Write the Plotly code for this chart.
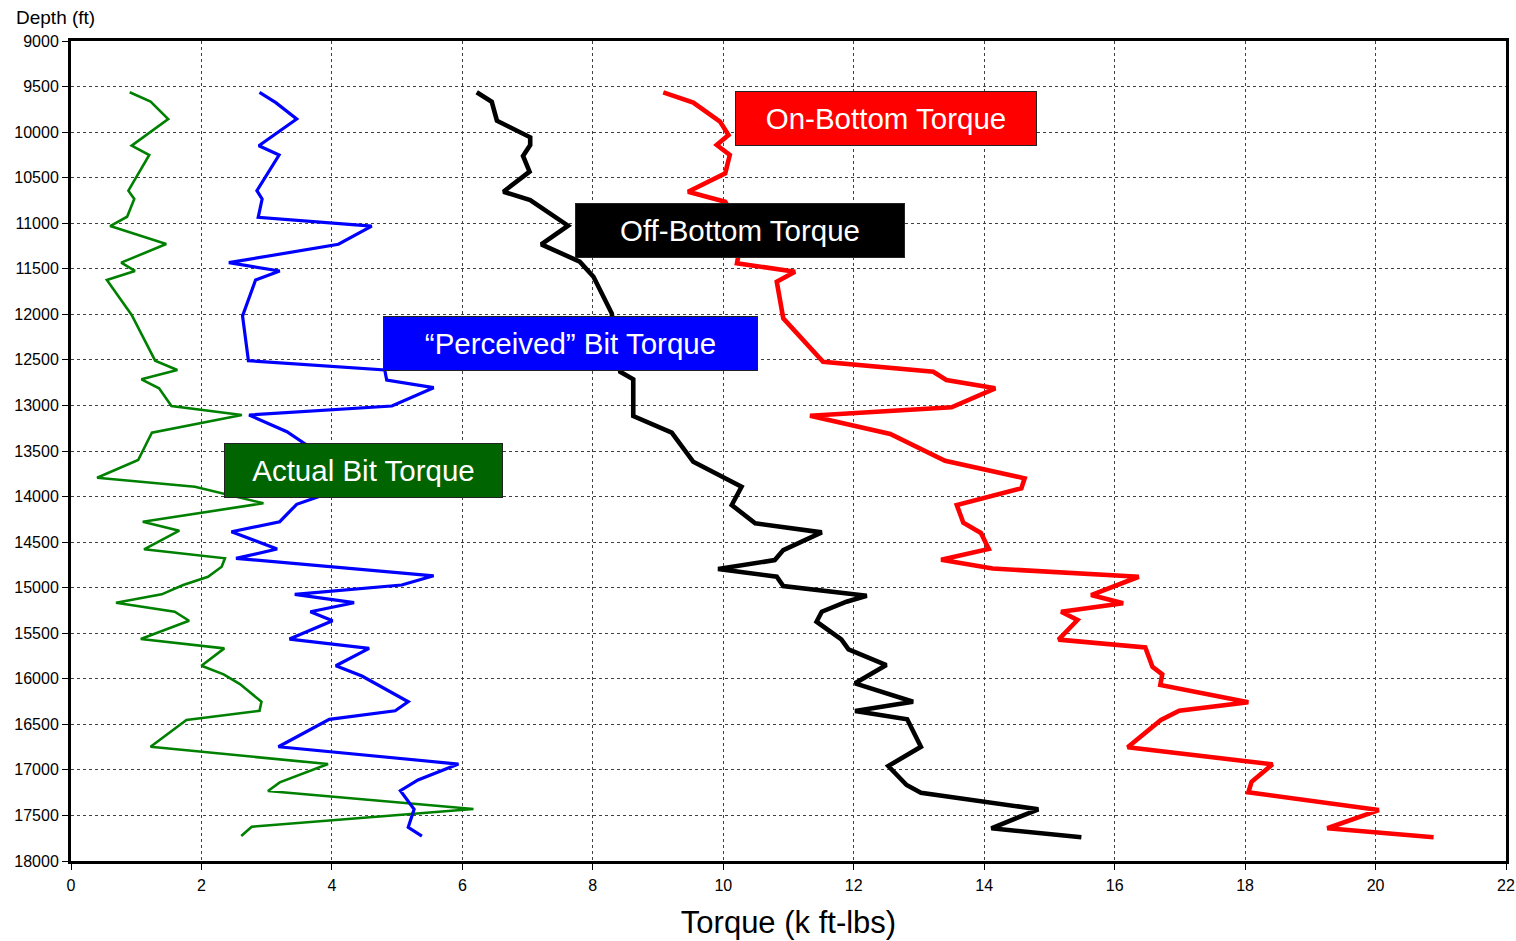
import plotly.graph_objects as go

# ---------------- data ----------------
depth_actual = [9563, 9666, 9856, 10149, 10251, 10643, 10734, 10929, 11031, 11228, 11433, 11524, 11623,
                12007, 12509, 12611, 12713, 12812, 13006, 13105, 13299, 13599, 13793, 13892, 14074, 14276,
                14375, 14579, 14678, 14770, 14880, 14971, 15073, 15165, 15264, 15363, 15564, 15666, 15857,
                15951, 16058, 16252, 16351, 16453, 16746, 16936, 17137, 17232, 17430, 17624, 17726]
torque_actual = [0.90, 1.22, 1.49, 0.93, 1.20, 0.88, 0.97, 0.86, 0.60, 1.46, 0.77, 0.98, 0.55,
                 0.93, 1.29, 1.63, 1.08, 1.35, 1.54, 2.62, 1.24, 1.03, 0.40, 1.90, 2.95, 1.10,
                 1.66, 1.12, 2.36, 2.31, 2.10, 1.72, 1.39, 0.69, 1.59, 1.81, 1.07, 2.35, 2.00,
                 2.34, 2.59, 2.92, 2.89, 1.77, 1.22, 3.94, 3.20, 3.02, 6.17, 2.77, 2.61]

depth_perceived = [9563, 9677, 9856, 10149, 10251, 10643, 10734, 10935, 11031, 11231, 11433, 11524, 11623,
                   12018, 12509, 12611, 12721, 12805, 13006, 13105, 13288, 13500, 13950, 14085, 14276,
                   14386, 14576, 14678, 14870, 14971, 15073, 15165, 15264, 15363, 15564, 15666, 15857,
                   15970, 16252, 16351, 16445, 16746, 16936, 17111, 17228, 17433, 17630, 17726]
torque_perceived = [2.89, 3.14, 3.46, 2.88, 3.19, 2.85, 2.93, 2.87, 4.61, 4.10, 2.42, 3.20, 2.83,
                    2.63, 2.72, 4.81, 4.84, 5.56, 4.92, 2.73, 3.31, 3.75, 4.00, 3.46, 3.20,
                    2.46, 3.16, 2.53, 5.56, 5.07, 3.43, 4.34, 3.67, 4.01, 3.35, 4.57, 4.06,
                    4.46, 5.17, 4.97, 3.96, 3.18, 5.94, 5.32, 5.05, 5.26, 5.17, 5.38]

depth_off = [9563, 9666, 9875, 10057, 10141, 10262, 10434, 10654, 10745, 11027, 11232, 11422, 11587,
             11989, 12630, 12713, 13116, 13299, 13618, 13892, 14093, 14294, 14393, 14587, 14697, 14795,
             14880, 14982, 15088, 15154, 15264, 15374, 15567, 15677, 15849, 16050, 16252, 16354, 16445,
             16746, 16958, 17166, 17250, 17433, 17641, 17740]
torque_off = [6.22, 6.45, 6.53, 7.04, 7.04, 6.93, 7.03, 6.63, 7.04, 7.62, 7.21, 7.80, 8.01,
              8.29, 8.42, 8.62, 8.62, 9.21, 9.54, 10.28, 10.13, 10.49, 11.51, 10.92, 10.79, 9.92,
              10.82, 10.92, 12.20, 11.89, 11.51, 11.43, 11.81, 11.92, 12.50, 12.02, 12.91, 12.02, 12.82,
              13.03, 12.53, 12.81, 13.03, 14.83, 14.11, 15.49]

depth_on = [9563, 9677, 9885, 10032, 10141, 10251, 10452, 10654, 10764, 11100, 11440, 11532, 11642,
            12044, 12520, 12630, 12721, 12812, 13020, 13113, 13314, 13607, 13800, 13910, 14093, 14287,
            14400, 14575, 14693, 14790, 14880, 15081, 15172, 15264, 15355, 15570, 15655, 15868, 15951,
            16068, 16258, 16350, 16453, 16752, 16939, 17130, 17246, 17441, 17641, 17740]
torque_on = [9.08, 9.54, 9.95, 10.08, 9.90, 10.10, 10.03, 9.46, 10.03, 10.30, 10.21, 11.10, 10.82,
             10.92, 11.53, 13.22, 13.42, 14.17, 13.50, 11.33, 12.56, 13.40, 14.62, 14.57, 13.58, 13.68,
             13.95, 14.07, 13.34, 14.13, 16.37, 15.64, 16.13, 15.18, 15.43, 15.14, 16.47, 16.58, 16.73,
             16.70, 18.05, 16.99, 16.71, 16.20, 18.42, 18.10, 18.05, 20.05, 19.26, 20.89]

label_text = ["On-Bottom Torque", "Off-Bottom Torque", "\u201cPerceived\u201d Bit Torque", "Actual Bit Torque"]
label_x = [12.50, 10.26, 7.66, 4.48]
label_y = [9856, 11085, 12315, 13714]
label_w = [300, 328, 373, 277]
label_colors = ["#FF0000", "#000000", "#0000FF", "#006400"]

FONT = "Arial, Liberation Sans, sans-serif"

fig = go.Figure()
fig.add_trace(go.Scatter(x=torque_actual, y=depth_actual, mode="lines",
                         line=dict(color="#008000", width=2.6), name="Actual Bit Torque"))
fig.add_trace(go.Scatter(x=torque_perceived, y=depth_perceived, mode="lines",
                         line=dict(color="#0000FF", width=3.2), name="Perceived Bit Torque"))
fig.add_trace(go.Scatter(x=torque_off, y=depth_off, mode="lines",
                         line=dict(color="#000000", width=4.6), name="Off-Bottom Torque"))
fig.add_trace(go.Scatter(x=torque_on, y=depth_on, mode="lines",
                         line=dict(color="#FF0000", width=4.6), name="On-Bottom Torque"))

for t, x, y, w, c in zip(label_text, label_x, label_y, label_w, label_colors):
    fig.add_annotation(x=x, y=y, xref="x", yref="y", text=t, showarrow=False,
                       font=dict(family=FONT, size=29.5, color="white"),
                       bgcolor=c, bordercolor="#222222", borderwidth=1, borderpad=0,
                       width=w, height=53, align="center", valign="middle")

fig.add_annotation(x=-0.0397, y=1.029, xref="paper", yref="paper", text="Depth (ft)",
                   showarrow=False, xanchor="left", yanchor="middle",
                   font=dict(family=FONT, size=19, color="black"))

fig.update_layout(
    width=1516, height=941,
    margin=dict(l=71, r=10, t=41, b=80),
    paper_bgcolor="white", plot_bgcolor="white",
    showlegend=False,
    font=dict(family=FONT, color="black"),
)
fig.update_xaxes(range=[0, 22], dtick=2, tick0=0, showgrid=True, griddash="dot",
                 gridcolor="#404040", gridwidth=1, zeroline=False, automargin=False,
                 showline=True, linecolor="black", linewidth=3, mirror=True,
                 ticks="outside", ticklen=6, tickcolor="black",
                 tickfont=dict(family=FONT, size=16), ticklabelstandoff=2,
                 title=dict(text="Torque (k ft-lbs)", font=dict(family=FONT, size=31), standoff=19))
fig.update_yaxes(range=[18000, 9000], dtick=500, tick0=9000, showgrid=True, griddash="dot",
                 gridcolor="#404040", gridwidth=1, zeroline=False, automargin=False,
                 showline=True, linecolor="black", linewidth=3, mirror=True,
                 ticks="outside", ticklen=6, tickcolor="black", tickformat="d",
                 tickfont=dict(family=FONT, size=16))

fig.write_html("out.html", config={"displayModeBar": False},
               post_script="document.body.style.margin='0';document.body.style.padding='0';")
